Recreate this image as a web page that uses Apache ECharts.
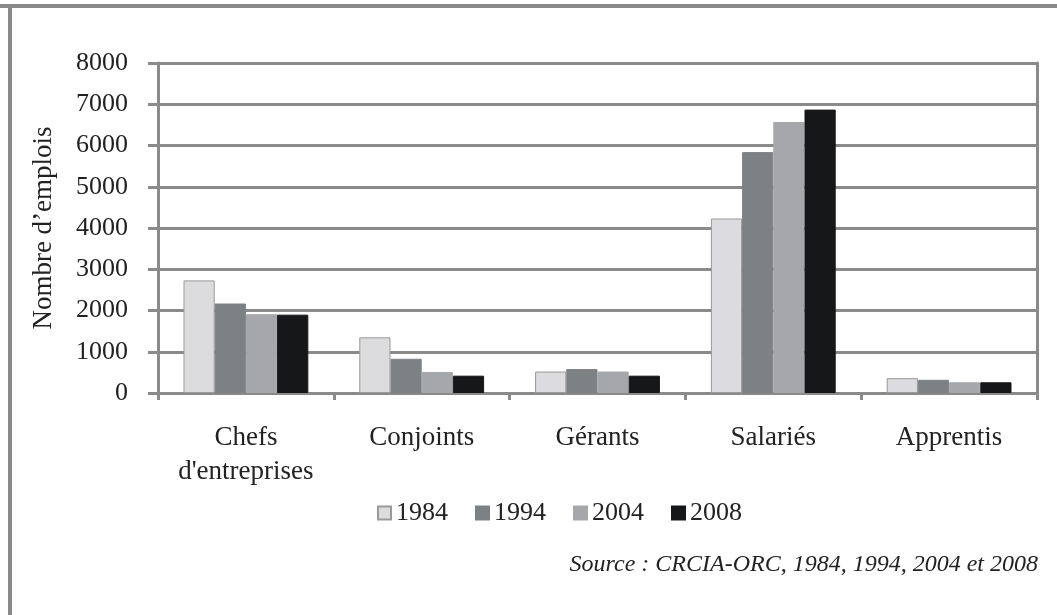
<!DOCTYPE html>
<html>
<head>
<meta charset="utf-8">
<script src="https://cdn.jsdelivr.net/npm/echarts@6/dist/echarts.min.js"></script>
<style>
  html, body { margin: 0; padding: 0; background: #fff; }
  #chart { width: 1057px; height: 615px; }
</style>
</head>
<body>
<div id="chart"></div>
<script>
// données
var categories = ['Chefs\nd\'entreprises', 'Conjoints', 'Gérants', 'Salariés', 'Apprentis'];
var years = ['1984', '1994', '2004', '2008'];
var v1984 = [2730, 1350, 520, 4230, 360];
var v1994 = [2170, 830, 580, 5840, 320];
var v2004 = [1910, 510, 520, 6570, 260];
var v2008 = [1900, 420, 420, 6870, 260];
var yTicks = [0, 1000, 2000, 3000, 4000, 5000, 6000, 7000, 8000];

var colors = ['#dcdcde', '#7e8184', '#a5a7aa', '#161718'];
var serie = [v1984, v1994, v2004, v2008];
var font = '"Liberation Serif", "Times New Roman", serif';

var chart = echarts.init(document.getElementById('chart'));

var option = {
    animation: false,
    textStyle: { fontFamily: font },
    grid: { left: 158, right: 20, top: 63, bottom: 222, containLabel: false },
    legend: {
        data: years,
        left: 372,
        top: 495,
        itemWidth: 13,
        itemHeight: 13,
        itemGap: 27,
        icon: 'rect',
        textStyle: { fontFamily: font, fontSize: 26, color: '#222' }
    },
    xAxis: {
        type: 'category',
        data: categories,
        axisLine: { lineStyle: { color: '#8a8a8a', width: 3 } },
        axisTick: { show: true, length: 7, lineStyle: { color: '#8a8a8a', width: 3 } },
        axisLabel: { fontFamily: font, fontSize: 27, color: '#222', margin: 28, lineHeight: 34, interval: 0 }
    },
    yAxis: [{
        type: 'value',
        min: 0,
        max: 8000,
        interval: 1000,
        name: 'Nombre d\u2019emplois',
        nameLocation: 'middle',
        nameGap: 101,
        nameTextStyle: { fontFamily: font, fontSize: 27, color: '#222' },
        axisLine: { show: true, lineStyle: { color: '#8a8a8a', width: 3 } },
        axisTick: { show: true, length: 10, lineStyle: { color: '#8a8a8a', width: 3 } },
        axisLabel: {
            fontFamily: font, fontSize: 26, color: '#222', margin: 30,
            formatter: function (v) { return yTicks.indexOf(v) >= 0 ? String(v) : ''; }
        },
        splitLine: { lineStyle: { color: '#8a8a8a', width: 3 } }
    }, {
        // bordure droite de la zone du graphique
        type: 'value',
        position: 'right',
        min: 0,
        max: 8000,
        interval: 1000,
        axisLine: { show: true, lineStyle: { color: '#8a8a8a', width: 3 } },
        axisTick: { show: false },
        axisLabel: { show: false },
        splitLine: { show: false }
    }],
    series: years.map(function (y, i) {
        return {
            type: 'bar',
            name: y,
            data: serie[i],
            barGap: '0%',
            barCategoryGap: '29%',
            itemStyle: { color: colors[i], borderColor: i === 0 ? '#9a9a9a' : colors[i], borderWidth: 1 }
        };
    }),
    graphic: [
        { type: 'rect', shape: { x: 0, y: 4, width: 1057, height: 4 }, style: { fill: '#8a8a8a' } },
        { type: 'rect', shape: { x: 8, y: 4, width: 4, height: 611 }, style: { fill: '#8a8a8a' } },
        {
            type: 'text', right: 19, top: 553,
            style: {
                text: 'Source : CRCIA-ORC, 1984, 1994, 2004 et 2008',
                font: 'italic 24px ' + font,
                fill: '#222'
            }
        }
    ]
};

chart.setOption(option);
</script>
</body>
</html>
